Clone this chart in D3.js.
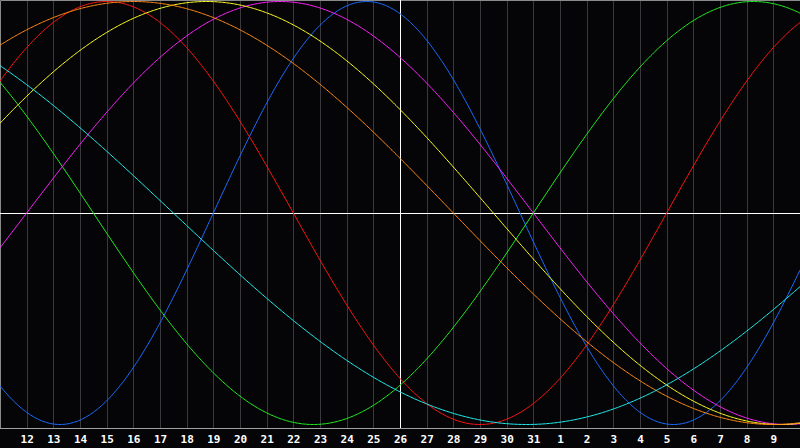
<!DOCTYPE html>
<html>
<head>
    <meta charset="UTF-8">
    <title>Biorhythm</title>
    <style>
        body { margin: 0; background: #050508; }
        svg { display: block; }
    </style>
</head>
<body>
    <script src="https://cdn.jsdelivr.net/npm/d3@7"></script>
    <script type="text/javascript">
        // day labels, first one sits on the left edge, last one on the right edge
        var dayLabels = ["11","12","13","14","15","16","17","18","19","20","21","22","23","24","25",
                         "26","27","28","29","30","31","1","2","3","4","5","6","7","8","9","10"];
        var todayIndex = 15;          // "26" - the white vertical line
        var daysAliveAtStart = 15655; // days since birth at the left edge
        // cycles
        var cycleNames = ["Physical","Emotional","Intellectual","Intuitive","Aesthetic","Awareness","Spiritual"];
        var cycleLengths = [23, 28, 33, 38, 43, 48, 53];
        var cycleColors = ["#1c6cff","#ff1414","#22ee22","#ff22ff","#ffff22","#ff8a14","#22eeee"];

        var width = 800, height = 448;
        var plotBottom = 428;

        var svg = d3.select("body").append("svg")
            .attr("width", width)
            .attr("height", height);

        svg.append("rect")
            .attr("width", width).attr("height", height)
            .attr("fill", "#050508");

        var x = d3.scaleLinear().domain([0, dayLabels.length - 1]).range([0, width]);
        var y = d3.scaleLinear().domain([-1, 1]).range([424.5, 1.5]);

        // day grid
        svg.append("g").selectAll("line")
            .data(d3.range(1, dayLabels.length - 1))
            .enter().append("line")
            .attr("x1", function(d){ return Math.round(x(d)) + 0.5; })
            .attr("x2", function(d){ return Math.round(x(d)) + 0.5; })
            .attr("y1", 0).attr("y2", plotBottom)
            .attr("stroke", "#3a3a3e");

        // frame (left, top, bottom)
        svg.append("path")
            .attr("d", "M0.5," + plotBottom + "V0.5H" + width)
            .attr("fill", "none").attr("stroke", "#8a8a8a");
        svg.append("line")
            .attr("x1", 0).attr("x2", width)
            .attr("y1", plotBottom + 0.5).attr("y2", plotBottom + 0.5)
            .attr("stroke", "#a0a0a0");

        // zero line and today line
        svg.append("line")
            .attr("x1", 0).attr("x2", width)
            .attr("y1", Math.round(y(0)) + 0.5).attr("y2", Math.round(y(0)) + 0.5)
            .attr("stroke", "#ffffff");
        svg.append("line")
            .attr("x1", Math.round(x(todayIndex)) + 0.5).attr("x2", Math.round(x(todayIndex)) + 0.5)
            .attr("y1", 0).attr("y2", plotBottom)
            .attr("stroke", "#ffffff");

        // curves
        var samples = d3.range(0, dayLabels.length - 1 + 0.001, 0.05);
        var line = d3.line()
            .x(function(d){ return x(d.day); })
            .y(function(d){ return y(d.v); });

        cycleLengths.forEach(function(len, i){
            var pts = samples.map(function(day){
                return { day: day, v: Math.sin(2 * Math.PI * (daysAliveAtStart + day) / len) };
            });
            svg.append("path")
                .datum(pts)
                .attr("class", "cycle " + cycleNames[i])
                .attr("d", line)
                .attr("fill", "none")
                .attr("stroke", cycleColors[i])
                .attr("stroke-width", 1);
        });

        // day labels
        svg.append("g").selectAll("text")
            .data(d3.range(1, dayLabels.length - 1))
            .enter().append("text")
            .attr("x", function(d){ return x(d) + 0.5; })
            .attr("y", 443)
            .attr("text-anchor", "middle")
            .attr("fill", "#ffffff")
            .attr("font-family", "DejaVu Sans Mono")
            .attr("font-weight", "bold")
            .attr("font-size", "11px")
            .text(function(d){ return dayLabels[d]; });
    </script>
</body>
</html>
